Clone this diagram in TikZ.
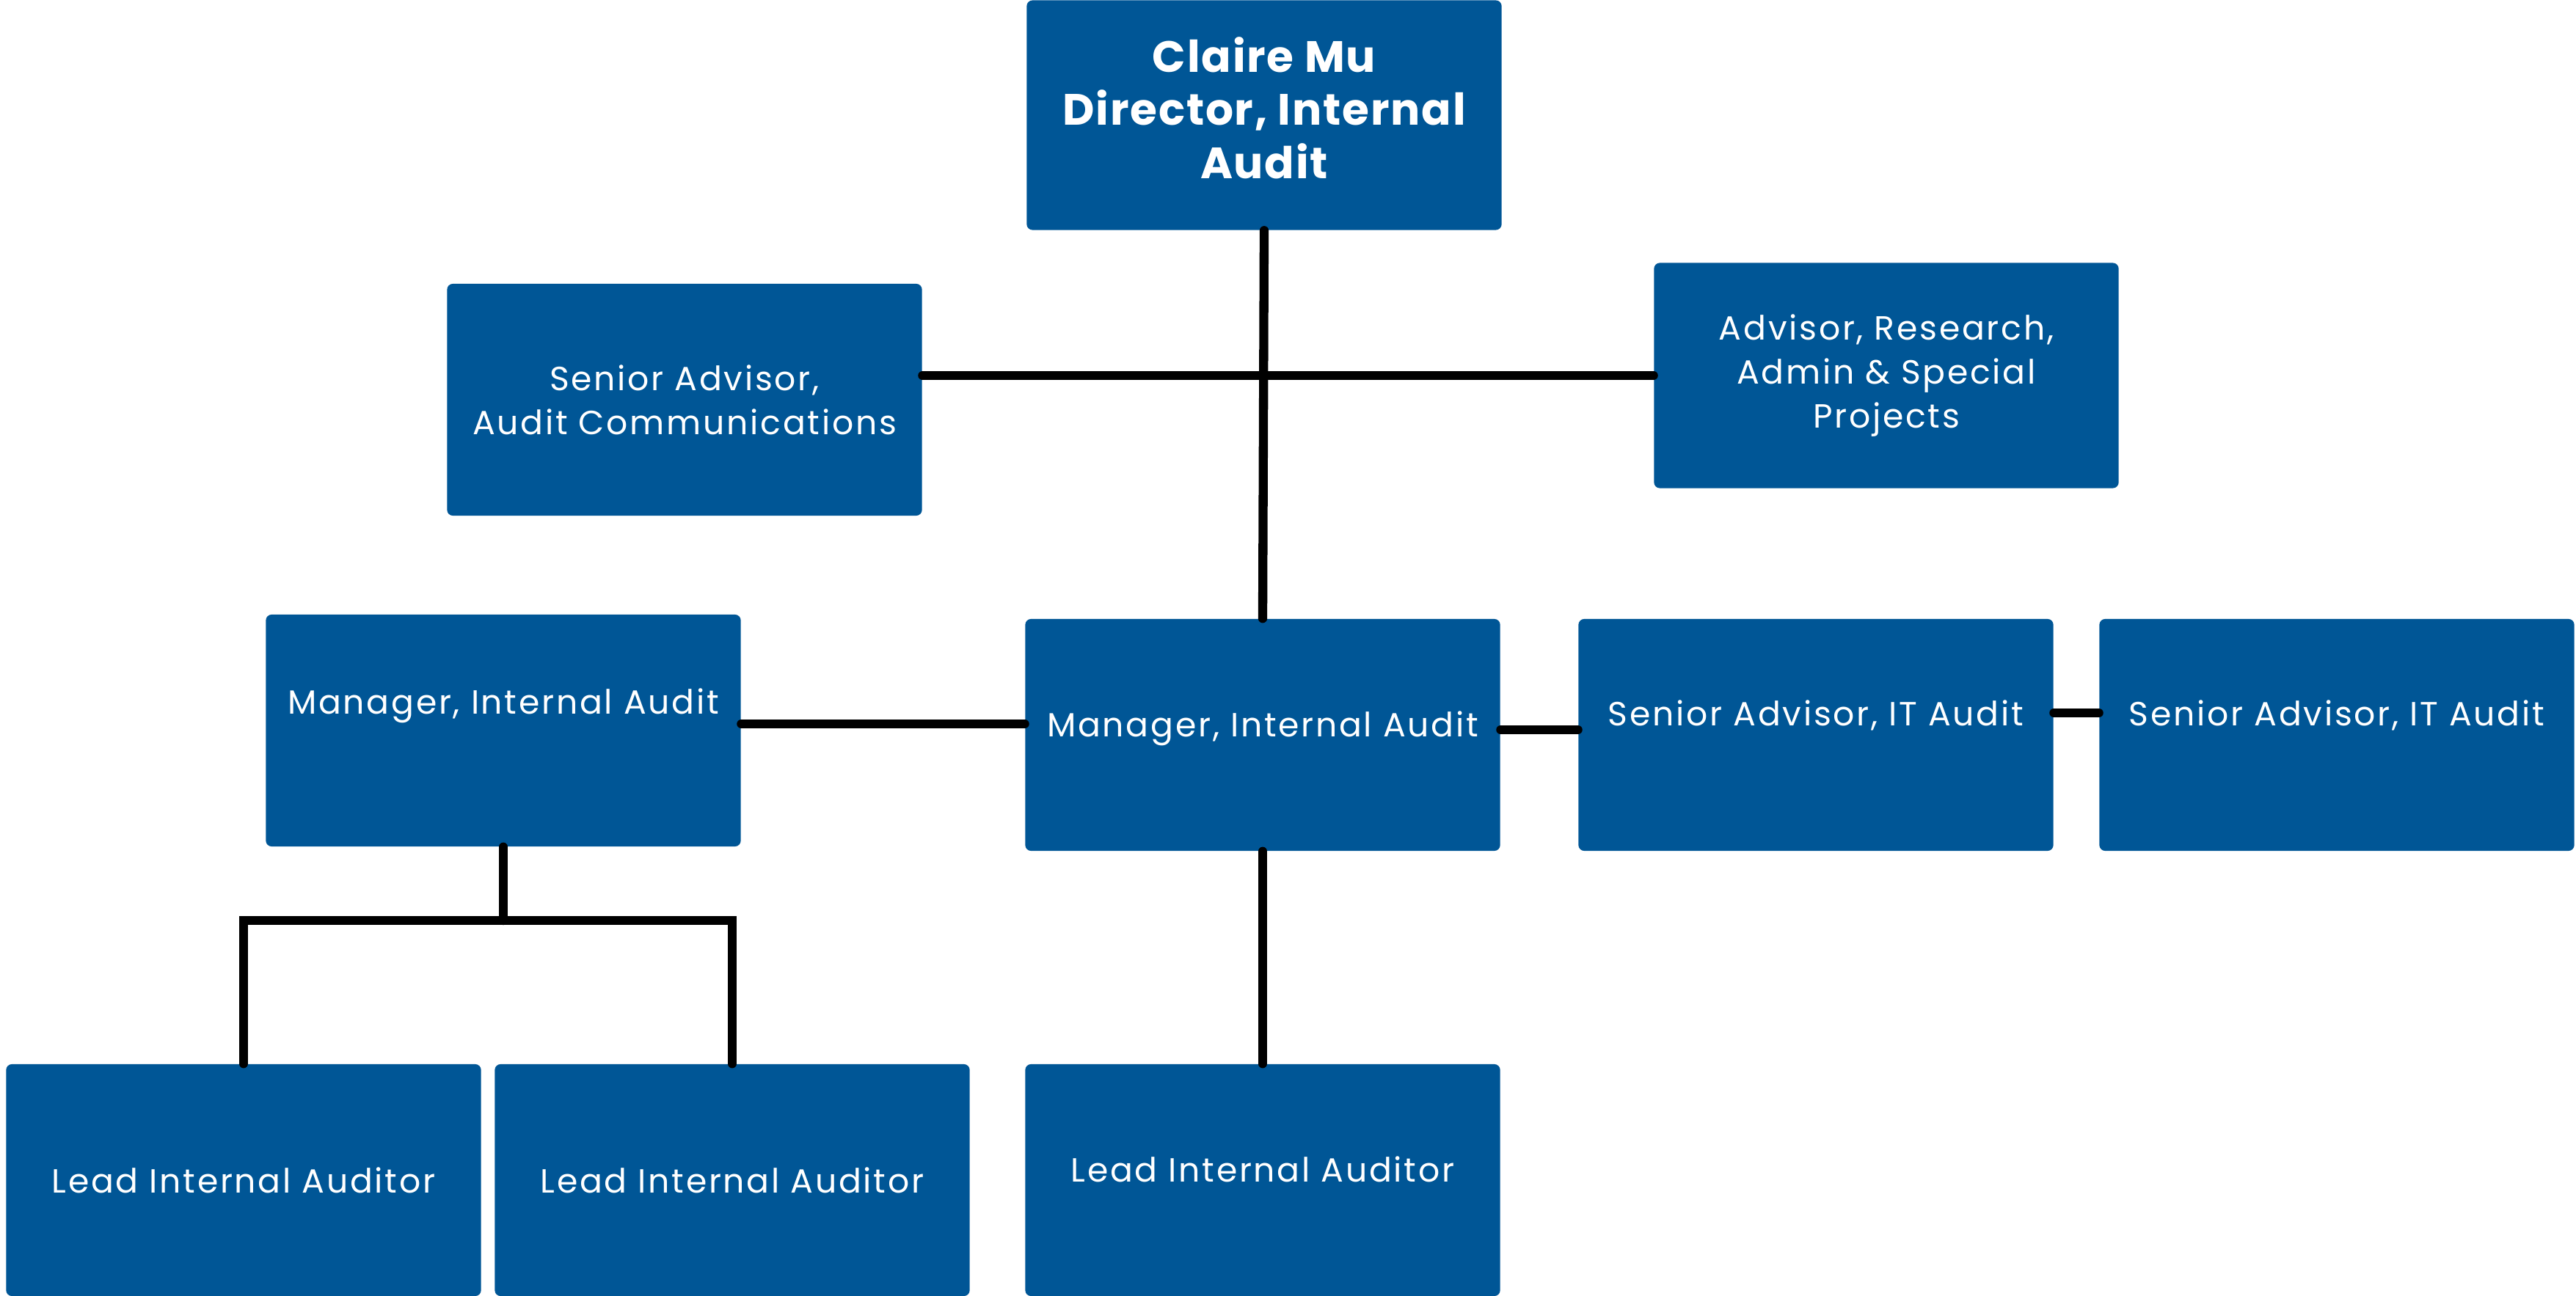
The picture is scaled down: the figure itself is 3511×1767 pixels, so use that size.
\documentclass[tikz,border=0pt]{standalone}
\usepackage{fontspec}
\setmainfont{Poppins}[LetterSpace=6]
\usetikzlibrary{positioning}
\definecolor{auditblue}{RGB}{0,86,150}

\tikzset{
  post/.style={draw=none,fill=auditblue,rounded corners=0.08cm,text=white,align=center,
    minimum width=6.47cm,minimum height=3.16cm,inner sep=0pt,
    font=\fontsize{13}{17}\selectfont},
  lift/.style={text depth=#1},
  link/.style={line width=3.5pt,line cap=round}
}

\begin{document}
\begin{tikzpicture}[x=0.01cm,y=-0.01cm]
  \useasboundingbox (0,0) rectangle (3511,1767);

  % Director
  \node[post,minimum height=3.13cm,lift=0.2cm,font=\fontsize{17}{20.5}\selectfont\bfseries\addfontfeatures{LetterSpace=3}] (dir) at (1723,157) {Claire Mu\\Director, Internal\\Audit};

  % Advisors
  \node[post] (sac) at (933,545) {Senior Advisor,\\Audit Communications};
  \node[post,minimum width=6.33cm,minimum height=3.07cm] (arp) at (2571,512) {Advisor, Research,\\Admin \& Special\\Projects};

  % Managers
  \node[post,lift=0.8cm] (mgrL) at (686,996) {Manager, Internal Audit};
  \node[post,lift=0.3cm] (mgrC) at (1721,1002) {Manager, Internal Audit};

  % IT audit
  \node[post,lift=0.6cm] (itA) at (2475,1002) {Senior Advisor, IT Audit};
  \node[post,lift=0.6cm] (itB) at (3185,1002) {Senior Advisor, IT Audit};

  % Lead auditors
  \node[post] (leadA) at (332,1609) {Lead Internal Auditor};
  \node[post] (leadB) at (998,1609) {Lead Internal Auditor};
  \node[post,lift=0.3cm] (leadC) at (1721,1609) {Lead Internal Auditor};

  % Lines
  \draw[link] (dir.south) -- (mgrC.north);
  \draw[link] (arp.west -| sac.east) -- (arp.west);
  \draw[link] (mgrL.east |- 0,987) -- (mgrC.west |- 0,987);
  \draw[link] (mgrC.east |- 0,995) -- (itA.west |- 0,995);
  \draw[link] (itA.east |- 0,972) -- (itB.west |- 0,972);
  \draw[link] (mgrC.south) -- (leadC.north);

  % Bus to lead auditors
  \coordinate (bus) at (686,1255);
  \draw[link] (mgrL.south) -- (bus);
  \draw[link] (leadA.north) -- (leadA.north |- bus) -- (leadB.north |- bus) -- (leadB.north);
\end{tikzpicture}
\end{document}
